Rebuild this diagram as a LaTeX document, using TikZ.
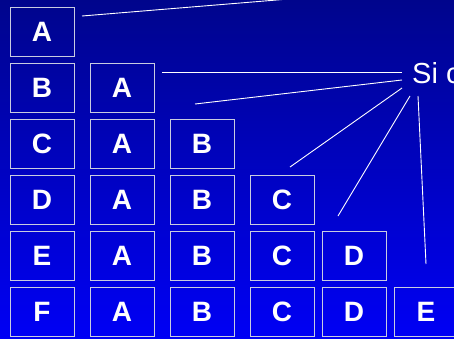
\documentclass[tikz,border=0pt]{standalone}
\usepackage{fontspec}
\setmainfont{Liberation Sans}
\usetikzlibrary{positioning,calc}
\definecolor{bgTop}{HTML}{00058C}
\definecolor{bgBot}{HTML}{0000F5}
\definecolor{frameGray}{HTML}{C8CCE0}

\begin{document}
\begin{tikzpicture}[x=1pt,y=-1pt,
  every node/.style={text=white},
  cell/.style={
    rectangle, draw=frameGray, line width=0.9pt,
    minimum width=64pt, minimum height=49pt, inner sep=0pt,
    font=\bfseries\fontsize{28}{28}\selectfont
  },
  ray/.style={white, line width=0.9pt}
]
 % Background
 \shade[top color=bgTop, bottom color=bgBot] (0,0) rectangle (454,338);
 \useasboundingbox (0,0) rectangle (454,338);

 % First column
 \foreach \r/\lab in {0/A,1/B,2/C,3/D,4/E,5/F} {
  \node[cell] (b\r0) at (42, 31.5+\r*56) {\lab};
 }
 % Staircase of earlier letters
 \foreach \c/\x/\lab in {1/122/A,2/202/B,3/282/C,4/354/D,5/426/E} {
  \foreach \r in {\c,...,5} {
   \node[cell] (b\r\c) at (\x, 31.5+\r*56) {\lab};
  }
 }

 % Label on the right
 \node[font=\fontsize{29}{29}\selectfont, anchor=base west, inner sep=0pt]
  (si) at (412,83) {Si c};

 % Ray ends
 \coordinate (t0) at (82,16);   \coordinate (u0) at (301,-2);
 \coordinate (t1) at (162,72);  \coordinate (u1) at (402,72);
 \coordinate (t2) at (195,104); \coordinate (u2) at (402,80);
 \coordinate (t3) at (290,167); \coordinate (u3) at (402,88);
 \coordinate (t4) at (338,216); \coordinate (u4) at (410,96);
 \coordinate (t5) at (426,264); \coordinate (u5) at (418,96);

 \foreach \i in {0,...,5} {
  \draw[ray] (t\i) -- (u\i);
 }
\end{tikzpicture}
\end{document}
